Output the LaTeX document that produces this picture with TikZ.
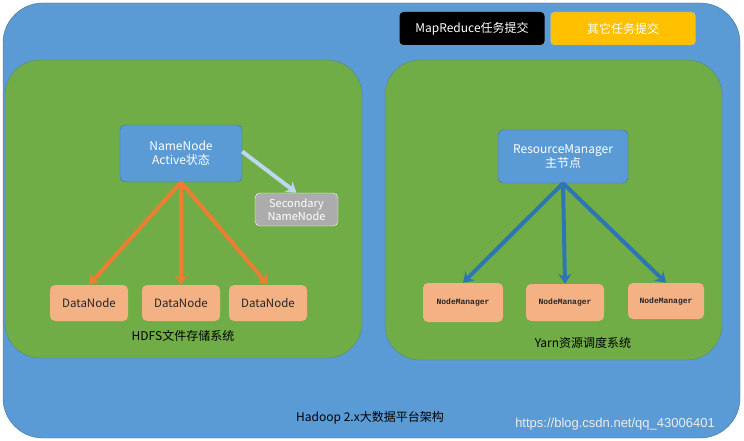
\documentclass[tikz,border=0pt]{standalone}
\usepackage{fontspec}
\setmainfont{Noto Sans CJK SC}
\newfontfamily\monof{Liberation Mono}
\newfontfamily\wmf{Liberation Sans}
\begin{document}
\begin{tikzpicture}[x=1pt,y=-1pt,
 box/.style={rounded corners=5pt,align=center,font=\fontsize{12}{14}\selectfont},
 bluebox/.style={box,fill=blueA,draw=blueB,text=white},
 dn/.style={box,fill=salmon,text=black!85,font=\fontsize{11.5}{13}\selectfont},
 nm/.style={box,fill=salmon,text=black!85,font=\monof\bfseries\fontsize{8}{10}\selectfont},
 oarr/.style={draw=orng,line width=4pt,-{Stealth[length=10pt,width=13pt]}},
 barr/.style={draw=blueD,line width=4pt,-{Stealth[length=10pt,width=13pt]}},
 lbl/.style={font=\fontsize{12}{14}\selectfont,text=black}]
\usetikzlibrary{arrows.meta}
\definecolor{blueA}{HTML}{5B9BD5}\definecolor{blueB}{HTML}{41719C}
\definecolor{grn}{HTML}{70AD47}\definecolor{salmon}{HTML}{F4B183}
\definecolor{orng}{HTML}{ED7D31}\definecolor{blueD}{HTML}{2E75B6}
\definecolor{lblue}{HTML}{BDD7EE}\definecolor{yel}{HTML}{FFC000}
\useasboundingbox (0,0) rectangle (744,441);
\fill[white] (0,0) rectangle (744,441);
\draw[fill=blueA,draw=blueB,rounded corners=40pt] (3,3) rectangle (740,438);
\draw[fill=grn,draw=blueB!60!grn,rounded corners=35pt] (5,60) rectangle (362,358);
\draw[fill=grn,draw=blueB!60!grn,rounded corners=35pt] (385,60) rectangle (722,360);
\node[box,fill=black,text=white,minimum width=145pt,minimum height=33pt,rounded corners=4pt] (mr) at (472,28.5) {MapReduce任务提交};
\node[box,fill=yel,draw=blueB!50,text=white,minimum width=145pt,minimum height=33pt,rounded corners=4pt] (ot) at (623,28.5) {其它任务提交};
\node[bluebox,minimum width=122pt,minimum height=57pt] (nn) at (181,153.5) {NameNode\\Active状态};
\node[box,fill=gray!65,draw=white,text=white,minimum width=83pt,minimum height=33pt,font=\fontsize{11}{13}\selectfont] (sn) at (296.5,209.5) {Secondary\\NameNode};
\node[dn,minimum width=78pt,minimum height=36pt] (d1) at (89,303) {DataNode};
\node[dn,minimum width=78pt,minimum height=36pt] (d2) at (181,303) {DataNode};
\node[dn,minimum width=78pt,minimum height=36pt] (d3) at (268,303) {DataNode};
\node[lbl] (hl) at (183,336) {HDFS文件存储系统};
\draw[oarr] (nn.south) -- (d1.north);
\draw[oarr] (nn.south) -- (d2.north);
\draw[oarr] (nn.south) -- (d3.north);
\draw[draw=lblue,line width=4pt,-{Stealth[length=10pt,width=13pt]}] (nn.east) ++(0,-2) -- (sn.north);
\node[bluebox,minimum width=130pt,minimum height=53pt] (rm) at (563,156.5) {ResourceManager\\主节点};
\node[nm,minimum width=80pt,minimum height=39pt] (n1) at (463,302.5) {NodeManager};
\node[nm,minimum width=78pt,minimum height=37pt] (n2) at (565,302.5) {NodeManager};
\node[nm,minimum width=76pt,minimum height=36pt] (n3) at (666,301) {NodeManager};
\node[lbl] (yl) at (583,343) {Yarn资源调度系统};
\draw[barr] (rm.south) -- (n1.north);
\draw[barr] (rm.south) -- (n2.north);
\draw[barr] (rm.south) -- (n3.north);
\node[lbl] (bt) at (370,418) {Hadoop 2.x大数据平台架构};
\node[text=white!85!gray,font=\wmf\fontsize{13}{15}\selectfont] (wm) at (615,424) {https://blog.csdn.net/qq\_43006401};
\end{tikzpicture}
\end{document}
